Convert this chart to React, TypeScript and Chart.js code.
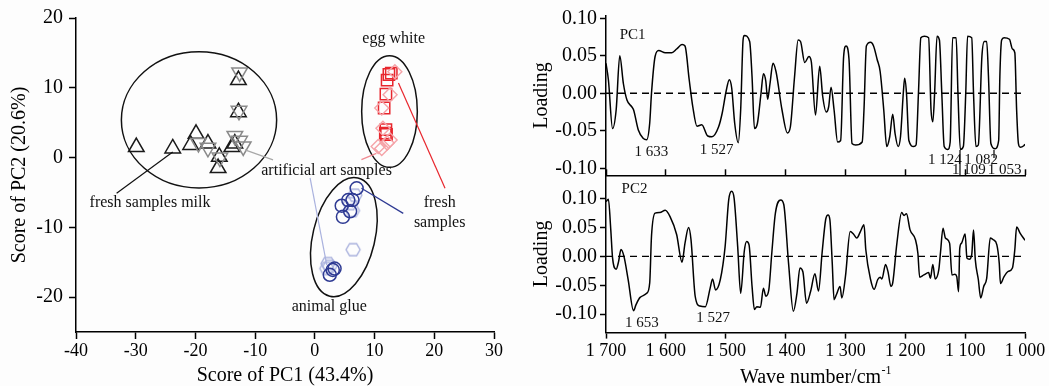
import React, { useEffect, useRef } from 'react';
import { Chart, registerables } from 'chart.js';

Chart.register(...registerables);

const SERIF = '"Liberation Serif", "Times New Roman", Times, serif';

// ---------------- Left panel: PCA score plot ----------------
const SCORE_X_TICKS = [-40, -30, -20, -10, 0, 10, 20, 30];
const SCORE_Y_TICKS = [-20, -10, 0, 10, 20];

const milkFreshX = [-29.9, -23.8, -19.9, -20.8, -17.9, -16.0, -16.2, -13.9, -12.8, -12.8, -13.4];
const milkFreshY = [1.5, 1.3, 3.4, 1.8, 2.0, 0.1, -1.5, 1.5, 11.1, 6.5, 2.0];
const milkArtX = [-12.6, -12.7, -19.5, -17.9, -15.9, -13.4, -12.6, -12.0];
const milkArtY = [12.2, 6.7, 2.1, 1.4, 0.0, 3.1, 2.4, 1.6];

const eggFreshX = [12.4, 12.8, 12.1, 11.9, 11.6, 11.9, 12.0, 11.8];
const eggFreshY = [11.9, 12.1, 11.1, 9.1, 7.1, 4.0, 3.3, 3.5];
const eggArtX = [13.4, 12.6, 11.2, 11.4, 12.1, 11.2, 10.6, 12.6];
const eggArtY = [12.3, 9.0, 7.1, 4.2, 2.1, 1.3, 1.6, 2.5];

const glueFreshX = [7.0, 6.3, 5.6, 4.5, 5.9, 4.7, 3.3, 2.5, 3.0];
const glueFreshY = [-4.4, -6.1, -6.1, -6.9, -7.7, -8.5, -15.9, -16.8, -16.1];
const glueArtX = [6.4, 6.7, 5.9, 2.2, 2.5, 2.0, 6.3];
const glueArtY = [-13.2, -5.4, -6.6, -15.2, -15.6, -15.9, -7.6];

// group ellipses (data units), rotation in degrees
const GROUP_ELLIPSES = [
  { cx: -19.4, cy: 5.4, rx: 13.0, ry: 9.76, rot: 0 },
  { cx: 12.5, cy: 6.6, rx: 4.66, ry: 8.0, rot: 0 },
  { cx: 4.86, cy: -11.4, rx: 5.2, ry: 8.7, rot: 13.4 },
];

const LEADER_LINES = [
  { x1: -23.8, y1: 0.8, x2: -33.2, y2: -5.1, color: '#111111' },
  { x1: -11.7, y1: 1.1, x2: -7.0, y2: -0.33, color: '#a8a8a8' },
  { x1: 7.8, y1: -0.3, x2: 10.3, y2: 0.6, color: '#f08a92' },
  { x1: -0.8, y1: -2.9, x2: 2.0, y2: -15.4, color: '#aab2de' },
  { x1: 14.0, y1: 10.7, x2: 21.8, y2: -4.4, color: '#e8262d' },
  { x1: 7.8, y1: -4.4, x2: 14.8, y2: -8.0, color: '#2e3a93' },
];

const SCORE_LABELS = [
  { x: 13.2, y: 17.0, text: 'egg white' },
  { x: 1.96, y: -1.9, text: 'artificial art samples' },
  { x: -27.6, y: -6.5, text: 'fresh samples milk' },
  { x: 20.9, y: -6.5, text: 'fresh' },
  { x: 20.9, y: -9.3, text: 'samples' },
  { x: 2.4, y: -21.4, text: 'animal glue' },
];

// ---------------- Right panels: loadings ----------------
const WN_TICKS = [1700, 1600, 1500, 1400, 1300, 1200, 1100, 1000];
const LOAD_TICKS = [-0.1, -0.05, 0, 0.05, 0.1];

const PC1_WN = [1700, 1696, 1689, 1683, 1677, 1671, 1665, 1657, 1654, 1646, 1638, 1632, 1627, 1624, 1618, 1612, 1601, 1590, 1582, 1573, 1568, 1561, 1555, 1548, 1540, 1530, 1523, 1512, 1506, 1499, 1494, 1490, 1485, 1479, 1475, 1471, 1469, 1460, 1456, 1452, 1447, 1441, 1437, 1433, 1430, 1426, 1421, 1416, 1406, 1397, 1392, 1385, 1379, 1375, 1368, 1361, 1357, 1350, 1343, 1338, 1332, 1328, 1324, 1319, 1313, 1308, 1303, 1299, 1294, 1289, 1283, 1272, 1269, 1265, 1258, 1253, 1247, 1242, 1236, 1231, 1226, 1221, 1217, 1212, 1208, 1203, 1201, 1198, 1194, 1186, 1182, 1178, 1174, 1168, 1161, 1157, 1154, 1151, 1147, 1143, 1139, 1135, 1129, 1125, 1121, 1115, 1112, 1108, 1103, 1099, 1096, 1089, 1086, 1082, 1078, 1072, 1068, 1064, 1061, 1057, 1050, 1044, 1042, 1039, 1035, 1026, 1021, 1017, 1014, 1011, 1008, 1002, 1000];
const PC1_LOAD = [0.04, 0.018, -0.047, -0.022, 0.05, 0.013, -0.009, -0.018, -0.022, -0.049, -0.06, -0.062, -0.04, 0.0, 0.049, 0.057, 0.054, 0.054, 0.059, 0.065, 0.063, 0.018, -0.018, -0.044, -0.042, -0.057, -0.058, -0.045, -0.027, 0.004, 0.018, 0.007, -0.04, -0.066, -0.022, 0.071, 0.077, 0.069, 0.022, -0.047, -0.04, 0.0, 0.026, 0.016, -0.008, 0.013, 0.04, 0.029, -0.022, -0.053, -0.045, 0.022, 0.071, 0.069, 0.041, 0.049, 0.042, -0.029, 0.036, -0.004, -0.025, -0.018, 0.008, -0.022, -0.065, -0.063, 0.049, 0.063, 0.045, -0.067, -0.069, -0.065, -0.022, 0.063, 0.068, 0.063, 0.045, 0.029, -0.022, -0.071, -0.058, -0.028, -0.054, -0.071, -0.058, 0.004, 0.02, 0.0, -0.063, -0.071, -0.069, 0.0, 0.074, 0.076, 0.074, -0.022, -0.038, 0.0, 0.076, 0.071, 0.0, -0.071, -0.075, -0.065, 0.074, 0.074, 0.0, -0.075, -0.071, 0.0, 0.076, 0.074, 0.0, -0.071, -0.069, 0.049, 0.069, 0.069, 0.022, -0.067, -0.074, -0.063, 0.022, 0.071, 0.074, 0.072, 0.059, 0.054, -0.022, -0.067, -0.072, -0.07, -0.068];

const PC2_WN = [1700, 1696, 1692, 1689, 1683, 1679, 1675, 1670, 1663, 1654, 1650, 1643, 1632, 1627, 1624, 1618, 1610, 1601, 1593, 1582, 1573, 1568, 1562, 1558, 1551, 1543, 1534, 1526, 1522, 1517, 1509, 1501, 1495, 1490, 1486, 1480, 1475, 1469, 1465, 1461, 1456, 1452, 1448, 1442, 1437, 1433, 1428, 1423, 1417, 1408, 1403, 1395, 1387, 1381, 1376, 1371, 1365, 1358, 1351, 1345, 1339, 1333, 1329, 1326, 1322, 1319, 1315, 1309, 1306, 1300, 1292, 1286, 1281, 1275, 1269, 1266, 1258, 1252, 1246, 1242, 1239, 1233, 1229, 1224, 1221, 1214, 1206, 1202, 1198, 1192, 1183, 1179, 1176, 1169, 1161, 1158, 1154, 1150, 1144, 1141, 1137, 1133, 1126, 1122, 1117, 1114, 1111, 1109, 1106, 1100, 1097, 1093, 1089, 1086, 1083, 1078, 1074, 1069, 1064, 1058, 1053, 1047, 1043, 1041, 1035, 1028, 1021, 1017, 1014, 1008, 1000];
const PC2_LOAD = [0.095, 0.099, 0.046, -0.003, -0.022, -0.009, 0.012, 0.0, -0.04, -0.094, -0.084, -0.071, -0.064, -0.046, 0.035, 0.075, 0.076, 0.08, 0.069, 0.038, -0.01, 0.023, 0.05, 0.029, -0.069, -0.086, -0.087, -0.055, -0.039, -0.058, -0.04, 0.017, 0.098, 0.113, 0.101, 0.017, -0.064, 0.009, 0.026, 0.02, -0.052, -0.092, -0.087, -0.088, -0.055, -0.069, -0.058, 0.006, 0.075, 0.098, 0.09, -0.012, -0.095, -0.064, -0.02, -0.027, -0.081, -0.06, -0.03, -0.06, 0.006, 0.064, 0.072, 0.064, -0.012, -0.075, -0.066, -0.052, -0.072, -0.035, 0.043, 0.038, 0.032, 0.043, 0.055, 0.012, -0.04, -0.057, -0.04, -0.036, -0.039, -0.014, -0.026, -0.052, -0.046, 0.023, 0.076, 0.071, 0.074, 0.046, 0.029, 0.006, -0.036, -0.032, -0.028, -0.038, -0.014, -0.039, -0.023, 0.009, 0.049, 0.032, 0.023, -0.032, -0.031, -0.035, -0.061, 0.014, 0.023, 0.039, -0.003, -0.005, 0.003, 0.046, -0.006, -0.04, -0.072, -0.052, -0.038, 0.032, 0.029, 0.02, -0.012, -0.047, -0.035, -0.026, -0.02, 0.012, 0.051, 0.04, 0.028];

const PC1_NOTES = [
  { x: 1677, y: 0.078, text: 'PC1', align: 'left' },
  { x: 1624, y: -0.078, text: '1 633', align: 'center' },
  { x: 1515, y: -0.0756, text: '1 527', align: 'center' },
  { x: 1134, y: -0.0889, text: '1 124', align: 'center' },
  { x: 1073.5, y: -0.0889, text: '1 082', align: 'center' },
  { x: 1093.6, y: -0.1023, text: '1 109', align: 'center' },
  { x: 1034, y: -0.1023, text: '1 053', align: 'center' },
];
const PC1_MARKS = [
  { x: 1108.6, y1: -0.0756, y2: -0.109 },
  { x: 1051.8, y1: -0.0756, y2: -0.0863 },
];
const PC2_NOTES = [
  { x: 1674, y: 0.117, text: 'PC2', align: 'left' },
  { x: 1640, y: -0.1155, text: '1 653', align: 'center' },
  { x: 1521, y: -0.107, text: '1 527', align: 'center' },
];

// ---------------- helpers ----------------
const pts = (xs: number[], ys: number[]) => xs.map((x, i) => ({ x, y: ys[i] }));

function makeHexagon(r: number, color: string) {
  const c = document.createElement('canvas');
  const s = Math.ceil(2 * r + 4);
  c.width = s;
  c.height = s;
  const g = c.getContext('2d')!;
  g.strokeStyle = color;
  g.lineWidth = 1.4;
  g.beginPath();
  for (let i = 0; i < 6; i++) {
    const a = (Math.PI / 3) * i;
    const px = s / 2 + r * Math.cos(a);
    const py = s / 2 + r * Math.sin(a);
    if (i === 0) g.moveTo(px, py);
    else g.lineTo(px, py);
  }
  g.closePath();
  g.stroke();
  return c;
}

const fixYWidth = (w: number) => (s: any) => {
  s.width = w;
  s.paddingTop = 0;
  s.paddingBottom = 0;
};
const fixXHeight = (h: number) => (s: any) => {
  s.height = h;
  s.paddingLeft = 0;
  s.paddingRight = 0;
};
const setTicks = (vals: number[]) => (s: any) => {
  s.ticks = vals.map((v) => ({ value: v }));
};

const axisGrid = {
  drawOnChartArea: false,
  drawTicks: true,
  tickLength: 6,
  tickWidth: 1.5,
  tickColor: '#000',
};
const axisBorder = { display: true, color: '#000', width: 1.5 };

const fmtLoad = (v: number) => {
  const s = Number(v).toFixed(2);
  return s === '-0.00' ? '0.00' : s;
};
const fmtWn = (v: number) => {
  const s = String(Math.round(Number(v)));
  return s.slice(0, 1) + ' ' + s.slice(1);
};

const scoreAnno = {
  id: 'scoreAnno',
  afterDatasetsDraw(chart: any) {
    const { ctx, scales } = chart;
    const xs = scales.x;
    const ys = scales.y;
    ctx.save();
    ctx.strokeStyle = '#111';
    ctx.lineWidth = 1.5;
    GROUP_ELLIPSES.forEach((e) => {
      const cx = xs.getPixelForValue(e.cx);
      const cy = ys.getPixelForValue(e.cy);
      const rx = Math.abs(xs.getPixelForValue(e.cx + e.rx) - cx);
      const ry = Math.abs(ys.getPixelForValue(e.cy + e.ry) - cy);
      ctx.beginPath();
      ctx.ellipse(cx, cy, rx, ry, (e.rot * Math.PI) / 180, 0, Math.PI * 2);
      ctx.stroke();
    });
    ctx.lineWidth = 1.2;
    LEADER_LINES.forEach((l) => {
      ctx.strokeStyle = l.color;
      ctx.beginPath();
      ctx.moveTo(xs.getPixelForValue(l.x1), ys.getPixelForValue(l.y1));
      ctx.lineTo(xs.getPixelForValue(l.x2), ys.getPixelForValue(l.y2));
      ctx.stroke();
    });
    ctx.fillStyle = '#111';
    ctx.font = `16px ${SERIF}`;
    ctx.textAlign = 'center';
    ctx.textBaseline = 'middle';
    SCORE_LABELS.forEach((t) => {
      ctx.fillText(t.text, xs.getPixelForValue(t.x), ys.getPixelForValue(t.y));
    });
    ctx.restore();
  },
};

function loadingNotes(notes: any[], marks: any[]) {
  return {
    id: 'loadingNotes',
    afterDatasetsDraw(chart: any) {
      const { ctx, scales } = chart;
      const xs = scales.x;
      const ys = scales.y;
      ctx.save();
      ctx.strokeStyle = '#000';
      ctx.lineWidth = 1.2;
      marks.forEach((m) => {
        const px = xs.getPixelForValue(m.x);
        ctx.beginPath();
        ctx.moveTo(px, ys.getPixelForValue(m.y1));
        ctx.lineTo(px, ys.getPixelForValue(m.y2));
        ctx.stroke();
      });
      ctx.fillStyle = '#111';
      ctx.font = `15px ${SERIF}`;
      ctx.textBaseline = 'middle';
      notes.forEach((n) => {
        ctx.textAlign = n.align;
        ctx.fillText(n.text, xs.getPixelForValue(n.x), ys.getPixelForValue(n.y));
      });
      ctx.restore();
    },
  };
}

const wavenumberTitle = {
  id: 'wavenumberTitle',
  afterDraw(chart: any) {
    const { ctx, chartArea } = chart;
    const main = 'Wave number/cm';
    const sup = '-1';
    ctx.save();
    ctx.fillStyle = '#000';
    ctx.textBaseline = 'alphabetic';
    ctx.textAlign = 'left';
    ctx.font = `20px ${SERIF}`;
    const w1 = ctx.measureText(main).width;
    ctx.font = `12px ${SERIF}`;
    const w2 = ctx.measureText(sup).width;
    const total = w1 + w2;
    const cx = (chartArea.left + chartArea.right) / 2;
    const baseline = chart.height - 3;
    const x0 = cx - total / 2;
    ctx.font = `20px ${SERIF}`;
    ctx.fillText(main, x0, baseline);
    ctx.font = `12px ${SERIF}`;
    ctx.fillText(sup, x0 + w1 + 0.5, baseline - 9);
    ctx.restore();
  },
};

function zeroLine() {
  return {
    data: [
      { x: WN_TICKS[0], y: 0 },
      { x: WN_TICKS[WN_TICKS.length - 1], y: 0 },
    ],
    borderColor: '#000',
    borderWidth: 1.3,
    borderDash: [7, 5],
    pointRadius: 0,
    fill: false,
  };
}

const loadingYAxis = (min: number, max: number) => ({
  type: 'linear',
  min,
  max,
  afterBuildTicks: setTicks(LOAD_TICKS),
  afterFit: fixYWidth(86),
  grid: axisGrid,
  border: axisBorder,
  ticks: {
    color: '#000',
    padding: 3,
    font: { family: SERIF, size: 20 },
    callback: (v: any) => fmtLoad(v),
  },
  title: {
    display: true,
    text: 'Loading',
    color: '#000',
    font: { family: SERIF, size: 20, lineHeight: 1 },
    padding: { top: 12, bottom: 0 },
  },
});

export default function App() {
  const leftRef = useRef<HTMLCanvasElement>(null);
  const topRef = useRef<HTMLCanvasElement>(null);
  const botRef = useRef<HTMLCanvasElement>(null);

  useEffect(() => {
    const hexArt = makeHexagon(7, '#a9b1dd');

    const left = new Chart(leftRef.current!, {
      type: 'scatter',
      data: {
        datasets: [
          {
            data: pts(milkArtX, milkArtY),
            pointStyle: 'triangle',
            pointRotation: 180,
            pointRadius: 9,
            pointBorderColor: '#8a8a8a',
            pointBackgroundColor: 'rgba(0,0,0,0)',
            pointBorderWidth: 1.5,
          },
          {
            data: pts(milkFreshX, milkFreshY),
            pointStyle: 'triangle',
            pointRadius: 9,
            pointBorderColor: '#1a1a1a',
            pointBackgroundColor: 'rgba(0,0,0,0)',
            pointBorderWidth: 1.5,
          },
          {
            data: pts(eggArtX, eggArtY),
            pointStyle: 'rectRot',
            pointRadius: 7,
            pointBorderColor: '#f5a3a8',
            pointBackgroundColor: 'rgba(0,0,0,0)',
            pointBorderWidth: 1.4,
          },
          {
            data: pts(eggFreshX, eggFreshY),
            pointStyle: 'rect',
            pointRadius: 8,
            pointBorderColor: '#e8262d',
            pointBackgroundColor: 'rgba(0,0,0,0)',
            pointBorderWidth: 1.5,
          },
          {
            data: pts(glueFreshX, glueFreshY),
            pointStyle: 'circle',
            pointRadius: 6.5,
            pointBorderColor: '#2e3a93',
            pointBackgroundColor: 'rgba(0,0,0,0)',
            pointBorderWidth: 1.5,
          },
          {
            data: pts(glueArtX, glueArtY),
            pointStyle: hexArt as any,
            pointRadius: 7,
            pointBorderColor: '#a9b1dd',
            pointBackgroundColor: 'rgba(0,0,0,0)',
          },
        ],
      },
      options: {
        animation: false,
        responsive: false,
        devicePixelRatio: 1,
        events: [],
        layout: { padding: { top: 18, right: 26, left: 0, bottom: 0 } },
        plugins: { legend: { display: false }, tooltip: { enabled: false } },
        scales: {
          x: {
            type: 'linear',
            min: -40,
            max: 30,
            afterBuildTicks: setTicks(SCORE_X_TICKS),
            afterFit: fixXHeight(54),
            grid: { ...axisGrid, tickLength: 7 },
            border: axisBorder,
            ticks: { color: '#000', padding: 1, font: { family: SERIF, size: 18 } },
            title: {
              display: true,
              text: 'Score of PC1 (43.4%)',
              color: '#000',
              font: { family: SERIF, size: 20, lineHeight: 1 },
              padding: { top: 0, bottom: 0 },
            },
          },
          y: {
            type: 'linear',
            min: -25,
            max: 20,
            afterBuildTicks: setTicks(SCORE_Y_TICKS),
            afterFit: fixYWidth(76),
            grid: { ...axisGrid, tickLength: 7 },
            border: axisBorder,
            ticks: { color: '#000', padding: 6, font: { family: SERIF, size: 20 } },
            title: {
              display: true,
              text: 'Score of PC2 (20.6%)',
              color: '#000',
              font: { family: SERIF, size: 20, lineHeight: 1 },
              padding: { top: 10, bottom: 0 },
            },
          },
        },
      } as any,
      plugins: [scoreAnno],
    });

    const top = new Chart(topRef.current!, {
      type: 'line',
      data: {
        datasets: [
          {
            data: pts(PC1_WN, PC1_LOAD),
            borderColor: '#000',
            borderWidth: 1.5,
            pointRadius: 0,
            cubicInterpolationMode: 'monotone',
            fill: false,
          },
          zeroLine(),
        ],
      },
      options: {
        animation: false,
        responsive: false,
        devicePixelRatio: 1,
        events: [],
        layout: { padding: { top: 16, right: 24, left: 0, bottom: 3 } },
        plugins: { legend: { display: false }, tooltip: { enabled: false } },
        scales: {
          x: { type: 'linear', min: 1000, max: 1700, reverse: true, display: false },
          y: loadingYAxis(-0.109, 0.103),
        },
      } as any,
      plugins: [loadingNotes(PC1_NOTES, PC1_MARKS)],
    });

    const bot = new Chart(botRef.current!, {
      type: 'line',
      data: {
        datasets: [
          {
            data: pts(PC2_WN, PC2_LOAD),
            borderColor: '#000',
            borderWidth: 1.5,
            pointRadius: 0,
            cubicInterpolationMode: 'monotone',
            fill: false,
          },
          zeroLine(),
        ],
      },
      options: {
        animation: false,
        responsive: false,
        devicePixelRatio: 1,
        events: [],
        layout: { padding: { top: 0, right: 24, left: 0, bottom: 0 } },
        plugins: { legend: { display: false }, tooltip: { enabled: false } },
        scales: {
          x: {
            type: 'linear',
            position: 'bottom',
            min: 1000,
            max: 1700,
            reverse: true,
            afterBuildTicks: setTicks(WN_TICKS),
            afterFit: fixXHeight(53.4),
            grid: axisGrid,
            border: axisBorder,
            ticks: {
              color: '#000',
              padding: 2,
              font: { family: SERIF, size: 18 },
              callback: (v: any) => fmtWn(v),
            },
          },
          x2: {
            type: 'linear',
            position: 'top',
            min: 1000,
            max: 1700,
            reverse: true,
            afterBuildTicks: setTicks(WN_TICKS),
            afterFit: fixXHeight(15.3),
            grid: axisGrid,
            border: axisBorder,
            ticks: { display: false },
          },
          y: loadingYAxis(-0.132, 0.1406),
        },
      } as any,
      plugins: [loadingNotes(PC2_NOTES, []), wavenumberTitle],
    });

    return () => {
      left.destroy();
      top.destroy();
      bot.destroy();
    };
  }, []);

  return (
    <div
      style={{
        position: 'absolute',
        left: 0,
        top: 0,
        width: 1049,
        height: 386,
        background: '#fdfdfd',
        overflow: 'hidden',
      }}
    >
      <canvas
        ref={leftRef}
        width={520}
        height={386}
        style={{ position: 'absolute', left: 0, top: 0, width: 520, height: 386 }}
      />
      <canvas
        ref={botRef}
        width={529}
        height={226}
        style={{ position: 'absolute', left: 520, top: 160, width: 529, height: 226 }}
      />
      <canvas
        ref={topRef}
        width={529}
        height={178}
        style={{ position: 'absolute', left: 520, top: 0, width: 529, height: 178 }}
      />
    </div>
  );
}
